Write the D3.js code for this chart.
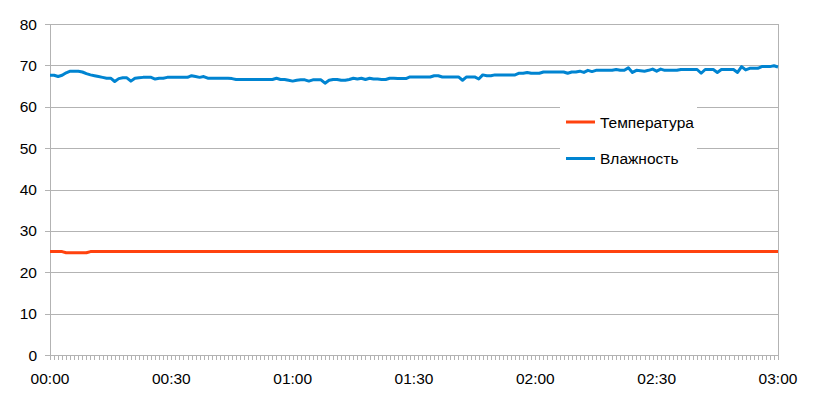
<!DOCTYPE html>
<html><head><meta charset="utf-8">
<script src="https://cdn.jsdelivr.net/npm/d3@7"></script>
<style>body{margin:0;background:#fff;}svg{display:block;font-family:"Liberation Sans",Arial,sans-serif;}</style>
</head><body>
<svg id="chart" width="819" height="403"></svg>
<script>
// Minutes since 00:00, one reading per minute
const minutes = d3.range(0, 181);
const temperature = [
25.0,25.0,25.0,25.0,24.7,24.7,24.7,24.7,24.7,24.7,
25.0,25.0,25.0,25.0,25.0,25.0,25.0,25.0,25.0,25.0,
25.0,25.0,25.0,25.0,25.0,25.0,25.0,25.0,25.0,25.0,
25.0,25.0,25.0,25.0,25.0,25.0,25.0,25.0,25.0,25.0,
25.0,25.0,25.0,25.0,25.0,25.0,25.0,25.0,25.0,25.0,
25.0,25.0,25.0,25.0,25.0,25.0,25.0,25.0,25.0,25.0,
25.0,25.0,25.0,25.0,25.0,25.0,25.0,25.0,25.0,25.0,
25.0,25.0,25.0,25.0,25.0,25.0,25.0,25.0,25.0,25.0,
25.0,25.0,25.0,25.0,25.0,25.0,25.0,25.0,25.0,25.0,
25.0,25.0,25.0,25.0,25.0,25.0,25.0,25.0,25.0,25.0,
25.0,25.0,25.0,25.0,25.0,25.0,25.0,25.0,25.0,25.0,
25.0,25.0,25.0,25.0,25.0,25.0,25.0,25.0,25.0,25.0,
25.0,25.0,25.0,25.0,25.0,25.0,25.0,25.0,25.0,25.0,
25.0,25.0,25.0,25.0,25.0,25.0,25.0,25.0,25.0,25.0,
25.0,25.0,25.0,25.0,25.0,25.0,25.0,25.0,25.0,25.0,
25.0,25.0,25.0,25.0,25.0,25.0,25.0,25.0,25.0,25.0,
25.0,25.0,25.0,25.0,25.0,25.0,25.0,25.0,25.0,25.0,
25.0,25.0,25.0,25.0,25.0,25.0,25.0,25.0,25.0,25.0,
25.0
];
const humidity = [
67.6,67.6,67.3,67.6,68.2,68.6,68.6,68.6,68.4,68.0,
67.7,67.5,67.3,67.1,66.9,66.9,66.1,66.8,67.0,67.0,
66.2,66.9,67.0,67.1,67.1,67.1,66.7,66.9,66.9,67.1,
67.1,67.1,67.1,67.1,67.1,67.5,67.3,67.1,67.3,66.9,
66.9,66.9,66.9,66.9,66.9,66.8,66.6,66.6,66.6,66.6,
66.6,66.6,66.6,66.6,66.6,66.6,66.9,66.6,66.6,66.4,
66.2,66.4,66.5,66.5,66.2,66.5,66.5,66.5,65.7,66.4,
66.6,66.6,66.4,66.4,66.6,66.9,66.7,66.9,66.6,66.9,
66.7,66.7,66.6,66.6,66.9,66.9,66.8,66.8,66.8,67.2,
67.2,67.2,67.2,67.2,67.2,67.5,67.5,67.2,67.2,67.2,
67.2,67.2,66.4,67.2,67.2,67.2,66.7,67.7,67.5,67.5,
67.7,67.7,67.7,67.7,67.7,67.7,68.1,68.1,68.3,68.1,
68.1,68.1,68.4,68.4,68.4,68.4,68.4,68.4,68.1,68.4,
68.4,68.6,68.3,68.8,68.5,68.8,68.8,68.8,68.8,68.8,
69.0,68.8,68.8,69.4,68.3,68.8,68.7,68.6,68.8,69.1,
68.6,69.1,68.8,68.8,68.8,68.8,69.0,69.0,69.0,69.0,
69.0,68.1,69.0,69.0,69.0,68.3,69.0,69.0,69.0,69.0,
68.3,69.7,68.9,69.3,69.3,69.3,69.7,69.7,69.7,69.9,
69.6
];
const seriesNames = ["Температура", "Влажность"];
const seriesColors = ["#ff420e", "#0084d1"];
const yTicks = [0, 10, 20, 30, 40, 50, 60, 70, 80];
const xTickMinutes = [0, 30, 60, 90, 120, 150, 180];
const xTickLabels = ["00:00", "00:30", "01:00", "01:30", "02:00", "02:30", "03:00"];

const svg = d3.select("#chart");
const L = 50, R = 778, T = 24, B = 355;
const x = d3.scaleLinear().domain([0, 180]).range([L, R]);
const y = d3.scaleLinear().domain([0, 80]).range([B, T]);
const grid = "#b3b3b3";

// horizontal gridlines
svg.append("g").selectAll("line").data(yTicks).join("line")
  .attr("x1", L - 5).attr("x2", R)
  .attr("y1", d => Math.round(y(d)) + 0.5).attr("y2", d => Math.round(y(d)) + 0.5)
  .attr("stroke", grid).attr("stroke-width", 1);
// vertical borders
[L, R].forEach(px => svg.append("line")
  .attr("x1", px + 0.5).attr("x2", px + 0.5).attr("y1", T).attr("y2", B + 5)
  .attr("stroke", grid));

// minor ticks every minute
svg.append("g").selectAll("line").data(minutes).join("line")
  .attr("x1", d => Math.round(x(d)) + 0.5).attr("x2", d => Math.round(x(d)) + 0.5)
  .attr("y1", B).attr("y2", B + 5).attr("stroke", grid);

// y labels
svg.append("g").selectAll("text").data(yTicks).join("text")
  .attr("x", 37).attr("y", d => y(d)).attr("dy", "0.36em")
  .attr("text-anchor", "end").attr("font-size", "15.5px").attr("fill", "#000")
  .text(d => d);
// x labels
svg.append("g").selectAll("text").data(xTickMinutes).join("text")
  .attr("x", d => x(d)).attr("y", 384)
  .attr("text-anchor", "middle").attr("font-size", "15.5px").attr("fill", "#000")
  .text((d, i) => xTickLabels[i]);

const line = d3.line().x((d, i) => x(minutes[i])).y(d => y(d));
[temperature, humidity].forEach((s, i) => {
  svg.append("path").datum(s).attr("d", line).attr("fill", "none")
    .attr("stroke", seriesColors[i]).attr("stroke-width", 3)
    .attr("stroke-linejoin", "round");
});

// legend
svg.append("rect").attr("x", 560).attr("y", 103).attr("width", 137).attr("height", 72).attr("fill", "#fff");
seriesNames.forEach((n, i) => {
  const ly = 122 + i * 36.5;
  svg.append("line").attr("x1", 566).attr("x2", 595).attr("y1", ly).attr("y2", ly)
    .attr("stroke", seriesColors[i]).attr("stroke-width", 3);
  svg.append("text").attr("x", 600).attr("y", ly).attr("dy", "0.36em")
    .attr("font-size", "15.5px").attr("fill", "#000").text(n);
});
</script>
</body></html>
